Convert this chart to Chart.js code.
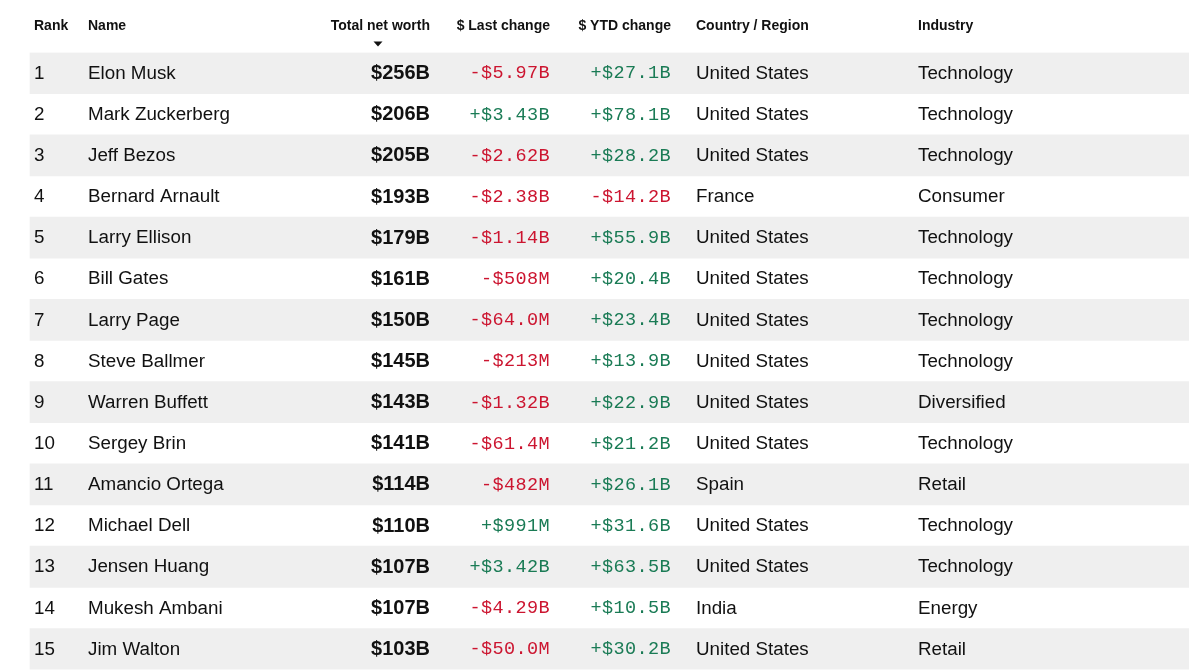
<!DOCTYPE html>
<html>
<head>
<meta charset="utf-8">
<title>Billionaires</title>
<script src="https://cdn.jsdelivr.net/npm/chart.js@4/dist/chart.umd.min.js"></script>
<style>
  html, body { margin: 0; padding: 0; background: #fff; }
  #wrap { position: relative; width: 1189px; height: 671px; }
</style>
</head>
<body>
<div id="wrap"><canvas id="chart"></canvas></div>
<script>
// table data
const ranks = [1, 2, 3, 4, 5, 6, 7, 8, 9, 10, 11, 12, 13, 14, 15];
const names = ['Elon Musk', 'Mark Zuckerberg', 'Jeff Bezos', 'Bernard Arnault', 'Larry Ellison',
  'Bill Gates', 'Larry Page', 'Steve Ballmer', 'Warren Buffett', 'Sergey Brin',
  'Amancio Ortega', 'Michael Dell', 'Jensen Huang', 'Mukesh Ambani', 'Jim Walton'];
const netWorth = [256, 206, 205, 193, 179, 161, 150, 145, 143, 141, 114, 110, 107, 107, 103]; // $B
const lastChange = [-5.97, 3.43, -2.62, -2.38, -1.14, -0.508, -0.064, -0.213, -1.32, -0.0614,
  -0.482, 0.991, 3.42, -4.29, -0.050]; // $B
const ytdChange = [27.1, 78.1, 28.2, -14.2, 55.9, 20.4, 23.4, 13.9, 22.9, 21.2, 26.1, 31.6, 63.5, 10.5, 30.2]; // $B
const countries = ['United States', 'United States', 'United States', 'France', 'United States',
  'United States', 'United States', 'United States', 'United States', 'United States',
  'Spain', 'United States', 'United States', 'India', 'United States'];
const industries = ['Technology', 'Technology', 'Technology', 'Consumer', 'Technology',
  'Technology', 'Technology', 'Technology', 'Diversified', 'Technology',
  'Retail', 'Technology', 'Technology', 'Energy', 'Retail'];
const headers = ['Rank', 'Name', 'Total net worth', '$ Last change', '$ YTD change', 'Country / Region', 'Industry'];

// column anchors on the x scale and their alignment
const colX = [34, 88, 430, 550, 671, 696, 918];
const colAlign = ['left', 'left', 'right', 'right', 'right', 'left', 'left'];

const RED = '#cc1530';
const GREEN = '#1a7b55';
const INK = '#111111';

function fmtMoney(v) {
  const sign = v < 0 ? '-' : '+';
  const a = Math.abs(v);
  return a >= 1 ? sign + '$' + a.toPrecision(3) + 'B' : sign + '$' + (a * 1000).toPrecision(3) + 'M';
}

// grey stripe behind every other row
const stripes = ranks.map((r, i) => (i % 2 === 0 ? [30, 1189] : null));

const tablePlugin = {
  id: 'tableText',
  afterDatasetsDraw(chart) {
    const { ctx, scales: { x, y } } = chart;
    ctx.save();
    ctx.textBaseline = 'middle';

    // header row sits in the top padding
    const hy = y.top - 26;
    ctx.font = 'bold 14px "Liberation Sans", Arial, sans-serif';
    ctx.fillStyle = INK;
    headers.forEach((h, c) => {
      ctx.textAlign = colAlign[c];
      ctx.fillText(h, x.getPixelForValue(colX[c]), hy);
    });
    // sort arrow under "Total net worth"
    const ax = x.getPixelForValue(378);
    ctx.beginPath();
    ctx.moveTo(ax - 4.5, hy + 15);
    ctx.lineTo(ax + 4.5, hy + 15);
    ctx.lineTo(ax, hy + 20);
    ctx.closePath();
    ctx.fill();

    ranks.forEach((r, i) => {
      const py = y.getPixelForValue(i) + 0.5;
      const sans = '18.8px "Liberation Sans", Arial, sans-serif';
      const mono = '18.5px "Liberation Mono", "Courier New", monospace';
      const cells = [
        [String(r), sans, INK],
        [names[i], sans, INK],
        ['$' + netWorth[i] + 'B', 'bold 20px "Liberation Sans", Arial, sans-serif', INK],
        [fmtMoney(lastChange[i]), mono, lastChange[i] < 0 ? RED : GREEN],
        [fmtMoney(ytdChange[i]), mono, ytdChange[i] < 0 ? RED : GREEN],
        [countries[i], sans, INK],
        [industries[i], sans, INK]
      ];
      cells.forEach(([txt, font, color], c) => {
        ctx.font = font;
        ctx.fillStyle = color;
        ctx.textAlign = colAlign[c];
        ctx.letterSpacing = font === mono ? '0.4px' : '0px';
        ctx.fillText(txt, x.getPixelForValue(colX[c]), py);
      });
    });
    ctx.restore();
  }
};

new Chart(document.getElementById('chart'), {
  type: 'bar',
  data: {
    labels: ranks.map(String),
    datasets: [{
      data: stripes,
      backgroundColor: '#efefef',
      borderWidth: 0,
      barPercentage: 1,
      categoryPercentage: 1
    }]
  },
  options: {
    indexAxis: 'y',
    responsive: true,
    maintainAspectRatio: false,
    animation: false,
    layout: { padding: { top: 52.5, bottom: 1.4, left: 0, right: 0 } },
    plugins: { legend: { display: false }, tooltip: { enabled: false } },
    scales: {
      x: { type: 'linear', min: 0, max: 1189, display: false },
      y: { type: 'category', display: false, grid: { display: false } }
    }
  },
  plugins: [tablePlugin]
});
</script>
</body>
</html>
